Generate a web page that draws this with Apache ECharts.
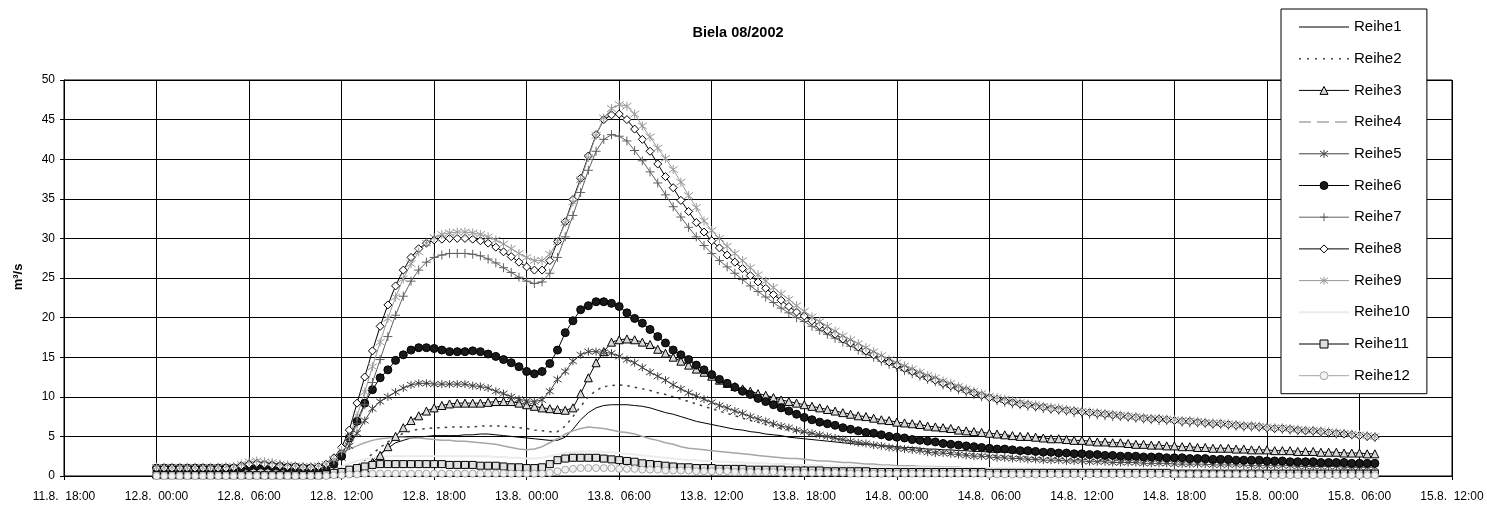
<!DOCTYPE html>
<html>
<head>
<meta charset="utf-8">
<title>Biela 08/2002</title>
<script src="https://cdn.jsdelivr.net/npm/echarts@6/dist/echarts.min.js"></script>
<style>
  html, body { margin: 0; padding: 0; background: #fff; }
  #chart { width: 1487px; height: 505px; }
</style>
</head>
<body>
<div id="chart"></div>
<script>
// Discharge of the Biela, August 2002 flood, half-hourly readings in m³/s.
// Readings start 12.8.2002 00:00 and come every 30 minutes.
const firstReading = Date.UTC(2002, 7, 12, 0, 0);
const stepMinutes = 30;
const axisStart = Date.UTC(2002, 7, 11, 18, 0);
const axisEnd = Date.UTC(2002, 7, 15, 12, 0);
const tickHours = 6;
const yMax = 50;
const yStep = 5;

const chartTitle = 'Biela 08/2002';
const unitLabel = 'm³/s';
const seriesNames = ['Reihe1', 'Reihe2', 'Reihe3', 'Reihe4', 'Reihe5', 'Reihe6',
                     'Reihe7', 'Reihe8', 'Reihe9', 'Reihe10', 'Reihe11', 'Reihe12'];

// one row = 6 hours (12 readings)
const reihe1 = [
  0.3,0.3,0.3,0.3,0.3,0.3,0.3,0.3,0.3,0.3,0.3,0.3,
  0.3,0.3,0.3,0.3,0.3,0.3,0.3,0.3,0.3,0.3,0.3,0.3,
  0.4,0.5,0.8,1.3,2.0,2.8,3.5,4.2,4.5,4.8,4.9,5.0,
  5.1,5.1,5.1,5.1,5.2,5.2,5.3,5.3,5.2,5.1,5.0,4.9,
  4.8,4.7,4.6,4.5,4.5,4.9,5.9,7.1,8.0,8.6,8.9,9.0,
  9.0,9.0,8.9,8.8,8.6,8.3,8.0,7.8,7.5,7.2,6.9,6.7,
  6.5,6.3,6.1,5.9,5.8,5.6,5.5,5.3,5.2,5.1,4.9,4.8,
  4.7,4.6,4.5,4.4,4.3,4.2,4.1,4.0,4.0,3.9,3.8,3.8,
  3.7,3.6,3.6,3.5,3.4,3.4,3.3,3.3,3.2,3.2,3.1,3.1,
  3.0,3.0,3.0,2.9,2.9,2.8,2.8,2.8,2.7,2.7,2.7,2.6,
  2.6,2.6,2.5,2.5,2.5,2.4,2.4,2.4,2.4,2.3,2.3,2.3,
  2.3,2.2,2.2,2.2,2.2,2.1,2.1,2.1,2.1,2.0,2.0,2.0,
  2.0,2.0,1.9,1.9,1.9,1.9,1.9,1.8,1.8,1.8,1.8,1.8,
  1.7,1.7,1.7
];
const reihe2 = [
  0.5,0.5,0.5,0.5,0.5,0.5,0.5,0.5,0.5,0.5,0.5,0.5,
  0.5,0.5,0.5,0.5,0.5,0.5,0.5,0.5,0.5,0.5,0.5,0.6,
  0.7,0.9,1.3,2.0,2.8,3.6,4.3,4.9,5.4,5.7,5.9,6.0,
  6.1,6.1,6.2,6.2,6.2,6.2,6.3,6.3,6.3,6.3,6.2,6.1,
  6.0,5.8,5.7,5.6,5.6,6.3,7.5,8.8,10.0,10.8,11.3,11.4,
  11.5,11.4,11.2,11.0,10.8,10.5,10.3,10.0,9.7,9.4,9.1,8.8,
  8.5,8.2,7.9,7.6,7.3,7.0,6.8,6.5,6.3,6.0,5.8,5.6,
  5.4,5.2,5.0,4.9,4.7,4.5,4.4,4.2,4.1,4.0,3.8,3.7,
  3.6,3.5,3.4,3.3,3.2,3.1,3.0,3.0,2.9,2.8,2.8,2.7,
  2.6,2.6,2.5,2.5,2.4,2.4,2.3,2.3,2.3,2.2,2.2,2.1,
  2.1,2.1,2.0,2.0,2.0,1.9,1.9,1.9,1.9,1.8,1.8,1.8,
  1.8,1.7,1.7,1.7,1.7,1.6,1.6,1.6,1.6,1.6,1.5,1.5,
  1.5,1.5,1.5,1.4,1.4,1.4,1.4,1.4,1.4,1.3,1.3,1.3,
  1.3,1.3,1.3
];
const reihe3 = [
  0.3,0.3,0.3,0.3,0.3,0.3,0.3,0.3,0.3,0.3,0.3,0.3,
  0.3,0.3,0.3,0.3,0.3,0.3,0.3,0.3,0.3,0.3,0.3,0.3,
  0.4,0.5,0.7,1.0,1.7,2.6,3.7,5.0,6.1,7.0,7.6,8.2,
  8.6,8.9,9.1,9.2,9.2,9.2,9.2,9.3,9.4,9.4,9.4,9.2,
  9.0,8.8,8.6,8.5,8.4,8.3,8.6,10.4,12.4,14.3,15.7,16.9,
  17.2,17.3,17.2,16.9,16.6,16.0,15.5,15.0,14.5,14.0,13.5,13.1,
  12.6,12.1,11.7,11.3,11.0,10.7,10.4,10.2,9.9,9.6,9.4,9.2,
  9.0,8.8,8.6,8.4,8.2,8.0,7.8,7.6,7.5,7.3,7.1,7.0,
  6.8,6.7,6.6,6.5,6.3,6.2,6.1,6.0,5.8,5.7,5.6,5.5,
  5.4,5.3,5.2,5.1,5.0,5.0,4.9,4.8,4.7,4.7,4.6,4.5,
  4.5,4.4,4.3,4.3,4.2,4.2,4.1,4.0,4.0,3.9,3.9,3.8,
  3.8,3.7,3.7,3.6,3.6,3.5,3.5,3.5,3.4,3.4,3.3,3.3,
  3.3,3.2,3.2,3.2,3.1,3.1,3.1,3.0,3.0,3.0,2.9,2.9,
  2.9,2.8,2.8
];
const reihe4 = [
  0.7,0.7,0.7,0.7,0.7,0.7,0.7,0.7,0.7,0.7,0.7,0.7,
  0.8,0.8,0.8,0.8,0.7,0.7,0.7,0.8,0.9,1.2,1.7,2.3,
  2.9,3.4,3.8,4.2,4.5,4.7,4.8,4.9,4.9,4.8,4.8,4.7,
  4.6,4.5,4.5,4.4,4.4,4.3,4.2,4.1,4.0,3.8,3.6,3.4,
  3.3,3.4,3.7,4.2,4.7,5.3,5.7,6.0,6.2,6.1,6.0,5.8,
  5.6,5.5,5.3,5.0,4.7,4.5,4.2,4.0,3.7,3.5,3.4,3.3,
  3.2,3.1,3.0,2.9,2.8,2.7,2.6,2.5,2.4,2.3,2.2,2.2,
  2.1,2.0,1.9,1.9,1.8,1.7,1.7,1.6,1.5,1.5,1.4,1.4,
  1.3,1.3,1.3,1.2,1.2,1.2,1.1,1.1,1.1,1.0,1.0,1.0,
  1.0,0.9,0.9,0.9,0.9,0.9,0.8,0.8,0.8,0.8,0.8,0.8,
  0.7,0.7,0.7,0.7,0.7,0.7,0.7,0.7,0.7,0.7,0.7,0.7,
  0.7,0.7,0.7,0.7,0.7,0.7,0.6,0.6,0.6,0.6,0.6,0.6,
  0.6,0.6,0.6,0.6,0.6,0.6,0.6,0.6,0.6,0.6,0.6,0.6,
  0.6,0.6,0.6
];
const reihe5 = [
  0.9,0.9,0.9,0.9,0.9,0.9,0.9,0.9,0.9,0.9,0.9,1.0,
  1.2,1.3,1.3,1.2,1.1,1.0,1.0,0.9,0.9,0.9,1.0,1.4,
  2.3,3.8,5.4,7.0,8.5,9.4,10.0,10.6,11.1,11.5,11.7,11.7,
  11.6,11.6,11.6,11.6,11.6,11.4,11.3,11.1,10.7,10.4,10.0,9.7,
  9.5,9.4,9.6,10.7,12.2,13.2,14.5,15.3,15.7,15.7,15.6,15.5,
  15.1,14.7,14.3,13.7,13.1,12.6,12.1,11.5,11.0,10.5,10.1,9.7,
  9.3,8.9,8.6,8.2,7.9,7.5,7.2,6.9,6.6,6.3,6.1,5.8,
  5.6,5.4,5.2,5.0,4.8,4.6,4.4,4.2,4.1,3.9,3.8,3.6,
  3.5,3.4,3.3,3.2,3.0,2.9,2.9,2.8,2.7,2.6,2.5,2.5,
  2.4,2.3,2.3,2.2,2.2,2.1,2.1,2.0,2.0,2.0,1.9,1.9,
  1.9,1.8,1.8,1.8,1.7,1.7,1.7,1.7,1.6,1.6,1.6,1.6,
  1.5,1.5,1.5,1.5,1.5,1.4,1.4,1.4,1.4,1.4,1.3,1.3,
  1.3,1.3,1.3,1.3,1.2,1.2,1.2,1.2,1.2,1.2,1.1,1.1,
  1.1,1.1,1.1
];
const reihe6 = [
  1.0,1.0,1.0,1.0,1.0,1.0,1.0,1.0,1.0,1.0,1.0,1.1,
  1.2,1.3,1.3,1.2,1.2,1.1,1.1,1.0,1.0,1.0,1.1,1.5,
  2.5,4.8,6.9,9.2,10.9,12.4,13.4,14.6,15.3,15.9,16.2,16.2,
  16.1,15.9,15.7,15.7,15.7,15.8,15.7,15.4,15.1,14.7,14.3,13.8,
  13.2,12.9,13.2,14.2,15.9,18.1,19.6,21.0,21.5,22.0,22.0,21.8,
  21.4,20.6,19.9,19.3,18.5,17.6,16.8,15.9,15.3,14.7,14.0,13.4,
  12.8,12.2,11.7,11.2,10.7,10.3,9.8,9.4,9.0,8.6,8.2,7.8,
  7.4,7.1,6.8,6.6,6.4,6.1,5.9,5.7,5.5,5.4,5.2,5.0,
  4.9,4.8,4.6,4.5,4.4,4.3,4.1,4.0,3.9,3.8,3.7,3.6,
  3.5,3.4,3.4,3.3,3.2,3.2,3.1,3.0,3.0,2.9,2.9,2.8,
  2.8,2.7,2.7,2.6,2.6,2.5,2.5,2.5,2.4,2.4,2.4,2.3,
  2.3,2.3,2.2,2.2,2.2,2.1,2.1,2.1,2.0,2.0,2.0,2.0,
  1.9,1.9,1.9,1.8,1.8,1.8,1.8,1.7,1.7,1.7,1.7,1.6,
  1.6,1.6,1.6
];
const reihe7 = [
  1.0,1.0,1.0,1.0,1.0,1.0,1.0,1.0,1.0,1.0,1.1,1.3,
  1.5,1.6,1.6,1.5,1.4,1.3,1.2,1.1,1.1,1.1,1.4,2.0,
  3.0,4.5,6.6,9.0,11.8,14.7,17.6,20.3,22.7,24.6,26.0,27.0,
  27.6,27.9,28.1,28.1,28.1,28.0,27.8,27.4,26.9,26.3,25.7,25.1,
  24.6,24.3,24.5,25.6,27.6,30.2,32.9,35.8,38.6,41.0,42.5,43.1,
  42.9,42.3,41.1,39.8,38.4,37.0,35.5,34.0,32.7,31.4,30.2,29.1,
  28.1,27.2,26.4,25.6,24.8,24.0,23.3,22.6,21.9,21.2,20.6,20.0,
  19.5,18.9,18.4,17.9,17.4,16.9,16.4,15.9,15.4,15.0,14.5,14.1,
  13.7,13.3,12.9,12.6,12.2,11.9,11.5,11.2,10.9,10.6,10.3,10.0,
  9.8,9.5,9.3,9.1,9.0,8.8,8.7,8.5,8.4,8.3,8.2,8.0,
  7.9,7.8,7.7,7.6,7.5,7.5,7.4,7.3,7.2,7.1,7.0,7.0,
  6.9,6.8,6.7,6.7,6.6,6.5,6.5,6.4,6.3,6.2,6.2,6.1,
  6.0,6.0,5.9,5.8,5.7,5.7,5.6,5.5,5.4,5.3,5.3,5.2,
  5.1,5.0,4.9
];
const reihe8 = [
  1.0,1.0,1.0,1.0,1.0,1.0,1.0,1.0,1.0,1.0,1.1,1.3,
  1.5,1.6,1.5,1.4,1.3,1.2,1.2,1.1,1.1,1.2,1.5,2.3,
  3.6,5.8,9.2,12.5,15.8,18.9,21.6,24.0,26.0,27.6,28.7,29.4,
  29.8,29.9,30.0,30.0,30.0,29.9,29.7,29.4,28.9,28.3,27.7,27.0,
  26.4,26.0,26.0,27.2,29.6,32.1,34.9,37.6,40.4,43.1,45.0,45.6,
  45.7,45.0,43.8,42.5,41.0,39.4,37.8,36.4,34.8,33.4,32.0,30.8,
  29.7,28.8,27.9,27.0,26.2,25.3,24.5,23.7,22.9,22.2,21.4,20.7,
  20.2,19.6,19.0,18.4,17.9,17.3,16.8,16.3,15.8,15.3,14.8,14.4,
  14.0,13.6,13.2,12.8,12.4,12.1,11.7,11.4,11.1,10.8,10.5,10.2,
  9.9,9.7,9.5,9.3,9.1,9.0,8.8,8.7,8.5,8.4,8.3,8.2,
  8.1,8.0,7.9,7.8,7.7,7.6,7.5,7.4,7.3,7.2,7.2,7.1,
  7.0,6.9,6.9,6.8,6.7,6.6,6.6,6.5,6.4,6.3,6.3,6.2,
  6.1,6.0,6.0,5.9,5.8,5.7,5.7,5.6,5.5,5.4,5.3,5.2,
  5.1,5.0,4.9
];
const reihe9 = [
  1.1,1.1,1.1,1.1,1.1,1.1,1.1,1.1,1.1,1.2,1.2,1.5,
  1.8,1.9,1.8,1.7,1.5,1.4,1.3,1.2,1.2,1.3,1.5,2.1,
  3.2,5.0,7.6,10.6,13.8,16.9,19.9,22.6,24.9,26.8,28.3,29.4,
  30.1,30.5,30.7,30.8,30.8,30.7,30.5,30.2,29.8,29.3,28.7,28.1,
  27.6,27.2,27.2,28.0,29.6,32.0,34.6,37.4,40.2,43.0,45.2,46.4,
  46.9,46.7,45.7,44.2,42.8,41.4,40.1,38.7,37.1,35.4,33.9,32.2,
  31.0,30.0,29.0,28.1,27.2,26.3,25.4,24.6,23.8,23.0,22.3,21.5,
  20.8,20.1,19.5,18.9,18.3,17.7,17.2,16.7,16.2,15.7,15.2,14.7,
  14.3,13.9,13.5,13.1,12.7,12.4,12.0,11.7,11.3,11.0,10.7,10.4,
  10.1,9.9,9.7,9.5,9.3,9.1,9.0,8.8,8.7,8.6,8.4,8.3,
  8.2,8.1,8.0,7.9,7.8,7.7,7.6,7.5,7.4,7.3,7.3,7.2,
  7.1,7.0,7.0,6.9,6.8,6.7,6.7,6.6,6.5,6.4,6.4,6.3,
  6.2,6.1,6.1,6.0,5.9,5.8,5.8,5.7,5.6,5.5,5.4,5.3,
  5.2,5.1,5.0
];
const reihe10 = [
  0.3,0.3,0.3,0.3,0.3,0.3,0.3,0.3,0.3,0.3,0.3,0.3,
  0.3,0.3,0.3,0.3,0.3,0.3,0.3,0.3,0.3,0.3,0.5,0.8,
  1.2,1.6,1.9,2.1,2.3,2.4,2.5,2.5,2.5,2.5,2.5,2.5,
  2.5,2.5,2.5,2.5,2.5,2.5,2.5,2.5,2.4,2.4,2.3,2.3,
  2.2,2.2,2.3,2.5,2.7,2.9,3.0,3.1,3.1,3.1,3.0,3.0,
  2.9,2.8,2.7,2.6,2.5,2.4,2.3,2.2,2.1,2.0,2.0,1.9,
  1.9,1.8,1.8,1.7,1.7,1.6,1.6,1.6,1.5,1.5,1.5,1.4,
  1.4,1.4,1.4,1.3,1.3,1.3,1.3,1.2,1.2,1.2,1.2,1.2,
  1.1,1.1,1.1,1.1,1.1,1.1,1.0,1.0,1.0,1.0,1.0,1.0,
  1.0,1.0,1.0,1.0,1.0,1.0,0.9,0.9,0.9,0.9,0.9,0.9,
  0.9,0.9,0.9,0.9,0.9,0.9,0.8,0.8,0.8,0.8,0.8,0.8,
  0.8,0.8,0.8,0.8,0.8,0.8,0.8,0.8,0.8,0.8,0.8,0.8,
  0.7,0.7,0.7,0.7,0.7,0.7,0.7,0.7,0.7,0.7,0.7,0.7,
  0.7,0.7,0.7
];
const reihe11 = [
  0.1,0.1,0.1,0.1,0.1,0.1,0.1,0.1,0.1,0.1,0.1,0.1,
  0.1,0.1,0.1,0.1,0.1,0.1,0.1,0.1,0.1,0.1,0.2,0.4,
  0.5,0.8,1.0,1.2,1.4,1.5,1.5,1.5,1.5,1.5,1.5,1.5,
  1.5,1.5,1.4,1.4,1.4,1.4,1.3,1.3,1.3,1.2,1.1,1.1,
  1.0,1.0,1.1,1.5,2.0,2.2,2.3,2.3,2.3,2.3,2.2,2.1,
  2.0,1.9,1.8,1.6,1.5,1.4,1.3,1.2,1.1,1.1,1.0,1.0,
  1.0,0.9,0.9,0.9,0.9,0.8,0.8,0.8,0.8,0.8,0.7,0.7,
  0.7,0.7,0.7,0.6,0.6,0.6,0.6,0.6,0.6,0.5,0.5,0.5,
  0.5,0.5,0.5,0.5,0.5,0.5,0.5,0.5,0.5,0.5,0.5,0.5,
  0.4,0.4,0.4,0.4,0.4,0.4,0.4,0.4,0.4,0.4,0.4,0.4,
  0.4,0.4,0.4,0.4,0.4,0.4,0.4,0.4,0.4,0.4,0.4,0.4,
  0.3,0.3,0.3,0.3,0.3,0.3,0.3,0.3,0.3,0.3,0.3,0.3,
  0.3,0.3,0.3,0.3,0.3,0.3,0.3,0.3,0.3,0.3,0.3,0.3,
  0.3,0.3,0.3
];
const reihe12 = [
  0.0,0.0,0.0,0.0,0.0,0.0,0.0,0.0,0.0,0.0,0.0,0.0,
  0.0,0.0,0.0,0.0,0.0,0.0,0.0,0.0,0.0,0.0,0.0,0.1,
  0.1,0.2,0.2,0.3,0.3,0.3,0.3,0.3,0.3,0.3,0.3,0.3,
  0.3,0.3,0.3,0.3,0.3,0.3,0.3,0.3,0.3,0.3,0.3,0.3,
  0.3,0.3,0.3,0.4,0.6,0.8,0.9,1.0,1.0,1.0,1.0,1.0,
  0.9,0.9,0.9,0.8,0.8,0.8,0.7,0.7,0.7,0.7,0.6,0.6,
  0.6,0.6,0.6,0.5,0.5,0.5,0.5,0.5,0.5,0.4,0.4,0.4,
  0.4,0.4,0.4,0.4,0.4,0.4,0.3,0.3,0.3,0.3,0.3,0.3,
  0.3,0.3,0.3,0.3,0.3,0.3,0.3,0.3,0.3,0.3,0.3,0.3,
  0.2,0.2,0.2,0.2,0.2,0.2,0.2,0.2,0.2,0.2,0.2,0.2,
  0.2,0.2,0.2,0.2,0.2,0.2,0.2,0.2,0.2,0.2,0.2,0.2,
  0.2,0.2,0.2,0.2,0.2,0.2,0.2,0.2,0.2,0.2,0.2,0.2,
  0.1,0.1,0.1,0.1,0.1,0.1,0.1,0.1,0.1,0.1,0.1,0.1,
  0.1,0.1,0.1
];

const allValues = [reihe1, reihe2, reihe3, reihe4, reihe5, reihe6,
                   reihe7, reihe8, reihe9, reihe10, reihe11, reihe12];

const FONT = '"Liberation Sans", Arial, Helvetica, sans-serif';
const HOUR = 3600 * 1000;
const PLUS = 'path://M5,0L5,10M0,5L10,5';
const ASTERISK = 'path://M5,0L5,10M1.5,1.5L8.5,8.5M8.5,1.5L1.5,8.5';

// pair every reading with its timestamp
function toPoints(values) {
  return values.map((v, i) => [firstReading + i * stepMinutes * 60 * 1000, v]);
}

// line and marker look of each series
const looks = [
  { line: '#000000', width: 1 },
  { line: '#404040', width: 1.5, dash: [2.5, 5] },
  { line: '#000000', width: 1, symbol: 'triangle', size: 8, fill: '#d9d9d9', stroke: '#000000' },
  { line: '#a6a6a6', width: 1.5, legendDash: [12, 6] },
  { line: '#404040', width: 1, symbol: ASTERISK, size: 8, fill: 'transparent', stroke: '#404040' },
  { line: '#000000', width: 1, symbol: 'circle', size: 8, fill: '#1a1a1a', stroke: '#000000' },
  { line: '#606060', width: 1, symbol: PLUS, size: 9, fill: 'transparent', stroke: '#606060' },
  { line: '#000000', width: 1, symbol: 'diamond', size: 8, fill: '#ffffff', stroke: '#000000' },
  { line: '#999999', width: 1, symbol: ASTERISK, size: 9, fill: 'transparent', stroke: '#999999' },
  { line: '#ececec', width: 2 },
  { line: '#000000', width: 1, symbol: 'rect', size: 7, fill: '#e0e0e0', stroke: '#000000' },
  { line: '#a6a6a6', width: 1, symbol: 'circle', size: 7, fill: '#f2f2f2', stroke: '#a6a6a6' }
];

const series = seriesNames.map((name, k) => {
  const look = looks[k];
  const marked = !!look.symbol;
  return {
    name: name,
    type: 'line',
    data: toPoints(allValues[k]),
    symbol: marked ? look.symbol : 'circle',
    showSymbol: marked,
    showAllSymbol: true,
    symbolSize: look.size || 6,
    lineStyle: { color: look.line, width: look.width, type: look.dash || 'solid' },
    itemStyle: marked
      ? { color: look.fill, borderColor: look.stroke, borderWidth: 1 }
      : { color: 'transparent', borderColor: 'transparent', borderWidth: 0 },
    emphasis: { disabled: true },
    animation: false
  };
});

const legendData = seriesNames.map((name, k) => {
  const look = looks[k];
  const item = { name: name };
  if (look.legendDash) item.lineStyle = { type: look.legendDash, width: 1.5 };
  if (look.dash) item.lineStyle = { type: [2, 6], width: 1.5 };
  if (!look.symbol && look.width > 1 && !look.dash && !look.legendDash) item.lineStyle = { width: look.width };
  return item;
});

function pad2(n) { return (n < 10 ? '0' : '') + n; }
function timeLabel(ms) {
  const d = new Date(ms);
  return d.getUTCDate() + '.' + (d.getUTCMonth() + 1) + '.  ' +
         pad2(d.getUTCHours()) + ':' + pad2(d.getUTCMinutes());
}

const chart = echarts.init(document.getElementById('chart'), null, { renderer: 'canvas' });
chart.setOption({
  backgroundColor: '#ffffff',
  animation: false,
  textStyle: { fontFamily: FONT },
  grid: {
    left: 64, top: 80, width: 1388, height: 396,
    show: true, borderColor: '#000', borderWidth: 1, backgroundColor: 'transparent'
  },
  xAxis: {
    type: 'value',
    min: axisStart, max: axisEnd, interval: tickHours * HOUR,
    axisLine: { show: true, lineStyle: { color: '#000', width: 1 } },
    axisTick: { show: true, inside: false, length: 4, lineStyle: { color: '#000' } },
    splitLine: { show: true, lineStyle: { color: '#000', width: 1 } },
    axisLabel: { formatter: timeLabel, color: '#000', fontSize: 12, fontFamily: FONT, margin: 15 }
  },
  yAxis: {
    type: 'value',
    min: 0, max: yMax, interval: yStep,
    axisLine: { show: true, lineStyle: { color: '#000', width: 1 } },
    axisTick: { show: true, inside: false, length: 4, lineStyle: { color: '#000' } },
    splitLine: { show: true, lineStyle: { color: '#000', width: 1 } },
    axisLabel: { color: '#000', fontSize: 12, fontFamily: FONT, margin: 9 }
  },
  legend: {
    orient: 'vertical',
    left: 1281, top: 9,
    padding: [10, 17, 10, 17],
    itemWidth: 50, itemHeight: 10, itemGap: 15.7,
    borderColor: '#000', borderWidth: 1, backgroundColor: '#fff',
    selectedMode: false,
    textStyle: { fontSize: 15, color: '#000', fontFamily: FONT, lineHeight: 16 },
    itemStyle: { borderWidth: 1 },
    lineStyle: { width: 1 },
    data: legendData
  },
  graphic: [
    {
      type: 'text', x: 738, y: 33, silent: true,
      style: { text: chartTitle, font: 'bold 14.5px ' + FONT, fill: '#000',
               align: 'center', verticalAlign: 'middle', textAlign: 'center', textVerticalAlign: 'middle' }
    },
    {
      type: 'text', x: 18, y: 277, rotation: Math.PI / 2, silent: true,
      style: { text: unitLabel, font: 'bold 13px ' + FONT, fill: '#000',
               align: 'center', verticalAlign: 'middle', textAlign: 'center', textVerticalAlign: 'middle' }
    }
  ],
  series: series
});
</script>
</body>
</html>
